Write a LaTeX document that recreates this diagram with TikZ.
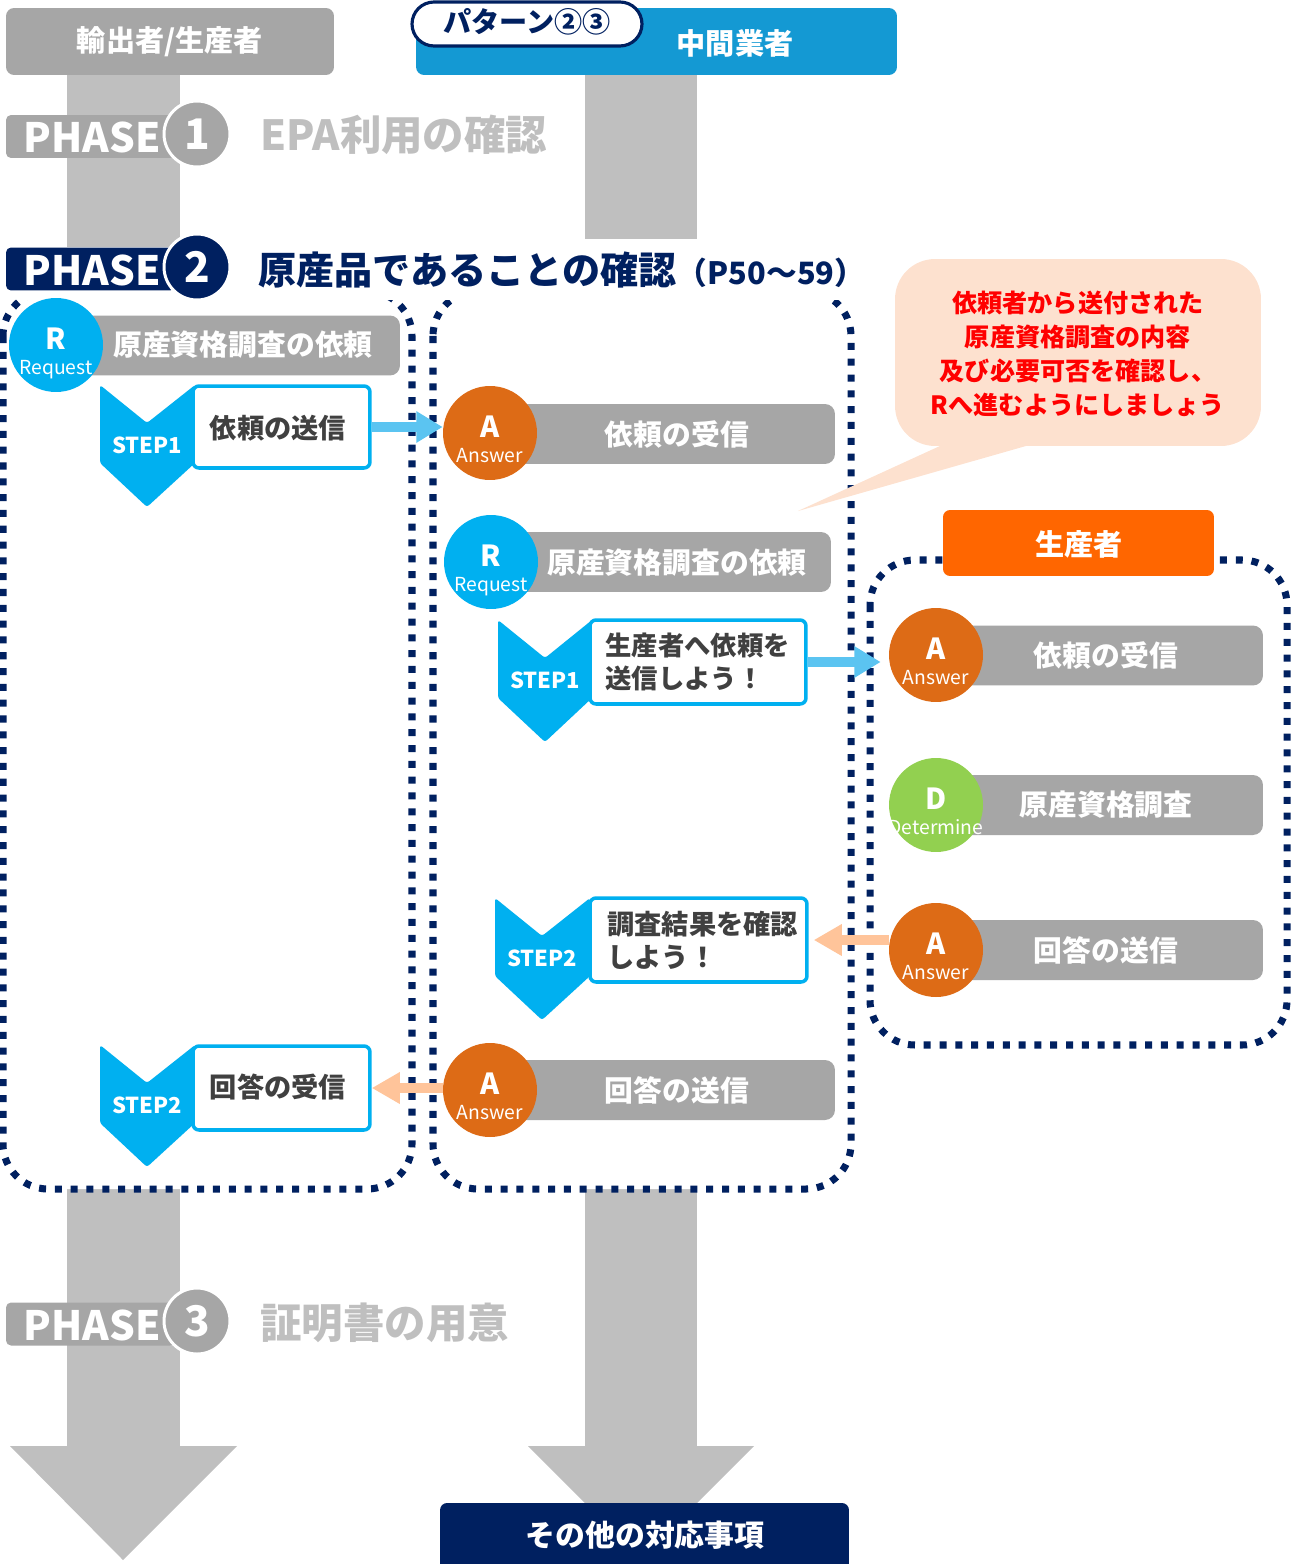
\documentclass[tikz,border=0pt]{standalone}
\usepackage{fontspec}
\setmainfont{Noto Sans CJK JP}
\usetikzlibrary{arrows.meta}
\definecolor{navy}{RGB}{0,32,96}
\definecolor{barg}{RGB}{166,166,166}
\definecolor{shaftg}{RGB}{191,191,191}
\definecolor{titleg}{RGB}{191,191,191}
\definecolor{cyanc}{RGB}{0,176,240}
\definecolor{hdrblue}{RGB}{20,153,211}
\definecolor{orgc}{RGB}{221,107,22}
\definecolor{grnc}{RGB}{146,208,80}
\definecolor{prodorg}{RGB}{255,102,0}
\definecolor{callc}{RGB}{253,225,207}
\definecolor{peach}{RGB}{255,196,154}
\definecolor{lcyan}{RGB}{91,196,241}
\definecolor{darktxt}{RGB}{64,64,64}
\tikzset{
  bar/.style={fill=barg, rounded corners=0.2cm, inner sep=0, minimum height=1.2cm, minimum width=#1},
  bartxt/.style={text=white, inner sep=0, font=\bfseries\fontsize{16.4pt}{19pt}\selectfont},
  circ/.style={circle, inner sep=0, minimum size=1.88cm},
  letr/.style={text=white, inner sep=0, anchor=base, font=\bfseries\fontsize{16.5pt}{18pt}\selectfont},
  subl/.style={text=white, inner sep=0, anchor=base, font=\fontsize{11pt}{13pt}\selectfont},
  stepbox/.style={draw=cyanc, line width=2pt, fill=white, rounded corners=0.12cm, inner sep=0},
  steptxt/.style={text=darktxt, inner sep=0, align=left, font=\bfseries\fontsize{15.5pt}{18.7pt}\selectfont},
  steplbl/.style={text=white, inner sep=0, font=\bfseries\fontsize{12.5pt}{14pt}\selectfont},
  dotbox/.style={draw=navy, line width=4pt, dash pattern=on 4pt off 5pt, fill=white, rounded corners=0.9cm},
  flowc/.style={-{Triangle[width=17pt,length=15pt]}, line width=5.7pt, draw=lcyan},
  flowp/.style={-{Triangle[width=17pt,length=16pt]}, line width=5.7pt, draw=peach},
  phlbl/.style={rounded corners=0.1cm, minimum width=3.38cm, minimum height=0.86cm, inner sep=0},
  phtxt/.style={text=white, inner sep=0, font=\bfseries\fontsize{23pt}{26pt}\selectfont},
  phcirc/.style={circle, draw=white, line width=1.7pt, minimum size=1.32cm, inner sep=0, text=white, font=\bfseries\fontsize{24pt}{26pt}\selectfont},
  hdrtxt/.style={text=white, inner sep=0, font=\bfseries\fontsize{16.6pt}{19pt}\selectfont},
}
\newcommand\actc[6]{%
  \node[circ, fill=#4] (#1) at (#2,#3) {};
  \node[letr] (#1l) at (#2,#3+4) {#5};
  \node[subl] (#1s) at (#2,#3+29) {#6};}
\newcommand\chevshape[5]{%
  \fill[cyanc, rounded corners=1.5pt] (#1,#4) -- (#2,#4+38) -- (#3,#4) -- (#3,#5-44) -- (#2,#5) -- (#1,#5-44) -- cycle;}
\begin{document}
\begin{tikzpicture}[x=0.02cm, y=-0.02cm]
\useasboundingbox (0,0) rectangle (1303,1564);
% background flow arrows
\fill[shaftg] (67,75) rectangle (180,1447);
\fill[shaftg] (10,1446) -- (237,1446) -- (123,1560) -- cycle;
\fill[shaftg] (585,75) rectangle (697,1447);
\fill[shaftg] (528,1446) -- (754,1446) -- (641,1559) -- cycle;
% dotted frames
\draw[dotbox] (3,291) rectangle (412,1189);
\draw[dotbox] (433,291) rectangle (851,1189);
\draw[dotbox] (870,560) rectangle (1287,1045);
% white band under phase 2 title
\fill[white] (22,247) rectangle (200,300);
\fill[white] (200,239) rectangle (858,300);
% headers
\node[fill=barg, rounded corners=0.16cm, minimum width=6.56cm, minimum height=1.34cm, inner sep=0] (hdrexp) at (170,41.5) {};
\node[hdrtxt] (hdrexpt) at (170,42) {輸出者/生産者};
\node[fill=hdrblue, rounded corners=0.16cm, minimum width=9.62cm, minimum height=1.34cm, inner sep=0] (hdrmid) at (656.5,41.5) {};
\node[hdrtxt] (hdrmidt) at (735,43) {中間業者};
\node[fill=white, draw=navy, line width=1.8pt, rounded corners=0.44cm, minimum width=4.6cm, minimum height=0.88cm, inner sep=0] (pat) at (527,24) {};
\node[text=navy, inner sep=0, font=\bfseries\fontsize{16pt}{19pt}\selectfont] (patt) at (527,22) {パターン②③};
% phase 1
\node[phlbl, fill=barg] (ph1) at (90.5,136.5) {};
\node[phtxt] (ph1t) at (92,137) {PHASE};
\node[phcirc, fill=barg] (ph1c) at (197,134) {1};
\node[anchor=west, inner sep=0, text=titleg, font=\bfseries\fontsize{23.6pt}{26pt}\selectfont] (ph1title) at (260,135) {EPA利用の確認};
% phase 2
\node[phlbl, fill=navy] (ph2) at (90.5,269) {};
\node[phtxt] (ph2t) at (92,270) {PHASE};
\node[phcirc, fill=navy] (ph2c) at (197,267) {2};
\node[anchor=west, inner sep=0, text=navy] (ph2title) at (258,270) {{\bfseries\fontsize{21.7pt}{26pt}\selectfont 原産品であることの確認}{\bfseries\fontsize{17.5pt}{19pt}\selectfont （P50～59）}};
% phase 3
\node[phlbl, fill=barg] (ph3) at (90.5,1324) {};
\node[phtxt] (ph3t) at (92,1325) {PHASE};
\node[phcirc, fill=barg] (ph3c) at (197,1321) {3};
\node[anchor=west, inner sep=0, text=titleg, font=\bfseries\fontsize{23.6pt}{26pt}\selectfont] (ph3title) at (260,1323) {証明書の用意};
% left column
\node[bar=6.88cm] (LRbar) at (228,345.5) {};
\actc{LR}{56}{345}{cyanc}{R}{Request}
\node[bartxt] (LRt) at (243,345) {原産資格調査の依頼};
\chevshape{100}{147}{195}{385}{507}
\node[steplbl] (L1lbl) at (147,445) {STEP1};
\node[stepbox, minimum width=3.54cm, minimum height=1.64cm] (L1box) at (281.5,427) {};
\node[steptxt] (L1t) at (278,428) {依頼の送信};
\chevshape{100}{147}{195}{1045}{1167}
\node[steplbl] (L2lbl) at (147,1105) {STEP2};
\node[stepbox, minimum width=3.54cm, minimum height=1.68cm] (L2box) at (281.5,1088) {};
\node[steptxt] (L2t) at (278,1087) {回答の受信};
% middle column
\node[bar=6.9cm] (MA1bar) at (662.5,434) {};
\actc{MA1}{490}{433}{orgc}{A}{Answer}
\node[bartxt] (MA1t) at (677,434) {依頼の受信};
\node[bar=6.8cm] (MRbar) at (661,562) {};
\actc{MR}{491}{562}{cyanc}{R}{Request}
\node[bartxt] (MRt) at (677,563) {原産資格調査の依頼};
\chevshape{498}{545}{592}{620}{742}
\node[steplbl] (M1lbl) at (545,680) {STEP1};
\node[stepbox, minimum width=4.32cm, minimum height=1.68cm] (M1box) at (698,662) {};
\node[steptxt, anchor=west, font=\bfseries\fontsize{15pt}{18.7pt}\selectfont] (M1t) at (605,662) {生産者へ依頼を\\送信しよう！};
\chevshape{495}{542}{590}{898}{1020}
\node[steplbl] (M2lbl) at (542,958) {STEP2};
\node[stepbox, minimum width=4.34cm, minimum height=1.68cm] (M2box) at (698.5,940) {};
\node[steptxt, anchor=west] (M2t) at (607,940) {調査結果を確認\\しよう！};
\node[bar=6.9cm] (MA3bar) at (662.5,1090) {};
\actc{MA3}{490}{1090}{orgc}{A}{Answer}
\node[bartxt] (MA3t) at (677,1090) {回答の送信};
% right column
\node[fill=prodorg, rounded corners=0.14cm, minimum width=5.42cm, minimum height=1.32cm, inner sep=0] (prod) at (1078.5,543) {};
\node[hdrtxt] (prodt) at (1079,544) {生産者};
\node[bar=6.54cm] (RA1bar) at (1099.5,655.5) {};
\actc{RA1}{936}{655}{orgc}{A}{Answer}
\node[bartxt] (RA1t) at (1106,655) {依頼の受信};
\node[bar=6.54cm] (RDbar) at (1099.5,805) {};
\actc{RD}{936}{805}{grnc}{D}{Determine}
\node[bartxt] (RDt) at (1106,805) {原産資格調査};
\node[bar=6.54cm] (RA3bar) at (1099.5,950) {};
\actc{RA3}{936}{950}{orgc}{A}{Answer}
\node[bartxt] (RA3t) at (1106,950) {回答の送信};
% callout
\fill[callc] (953,440) -- (798,511) -- (1047,440) -- cycle;
\node[fill=callc, rounded corners=0.8cm, minimum width=7.32cm, minimum height=3.74cm, inner sep=0] (call) at (1078,352.5) {};
\node[text=red, align=center, inner sep=0, font=\bfseries\fontsize{14.3pt}{19.3pt}\selectfont] (callt) at (1078,354) {依頼者から送付された\\原産資格調査の内容\\及び必要可否を確認し、\\Rへ進むようにしましょう};
% bottom box
\node[fill=navy, rounded corners=0.14cm, minimum width=8.18cm, minimum height=1.4cm, inner sep=0] (other) at (644.5,1538) {};
\node[hdrtxt, font=\bfseries\fontsize{17pt}{19pt}\selectfont] (othert) at (645,1535) {その他の対応事項};
% connectors
\draw[flowc] (L1box.east) -- (L1box.east -| MA1.west);
\draw[flowc, shorten >=0.16cm] (M1box.east) -- (M1box.east -| RA1.west);
\draw[flowp] (RA3.west |- M2box.east) -- ([xshift=0.1cm]M2box.east);
\draw[flowp] (MA3.west |- L2box.east) -- (L2box.east);
\end{tikzpicture}
\end{document}
